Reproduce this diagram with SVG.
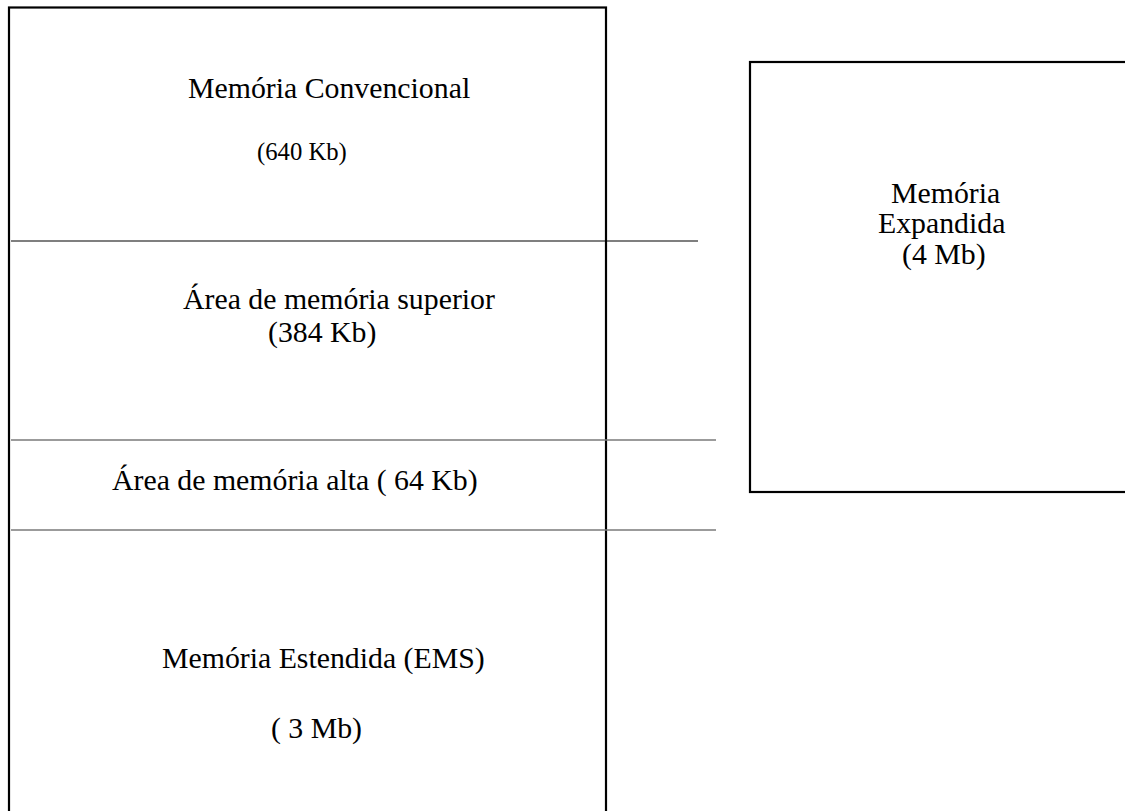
<svg xmlns="http://www.w3.org/2000/svg" width="1125" height="811" viewBox="0 0 1125 811">
<style>
.t{font-family:"Liberation Serif","Times New Roman",serif;font-size:29.8px;fill:#000}
.s{font-size:24.7px}
.box{fill:none;stroke:#000;stroke-width:2.2}
.ln{stroke:#000;stroke-width:1.2}
.lg{stroke:#7a7a7a;stroke-width:1.4}
</style>
<rect width="1125" height="811" fill="#fff"/>
<g id="memoria-principal">
<rect class="box" x="9" y="7.5" width="597" height="820"/>
</g>
<g id="convencional">
<text class="t" x="188" y="98">Memória Convencional</text>
<text class="t s" x="257" y="160">(640 Kb)</text>
</g>
<g id="superior">
<text class="t" x="183" y="309">Área de memória superior</text>
<text class="t" x="268" y="342">(384 Kb)</text>
</g>
<g id="alta">
<text class="t" x="112" y="490">Área de memória alta ( 64 Kb)</text>
</g>
<g id="estendida">
<text class="t" x="162" y="668">Memória Estendida (EMS)</text>
<text class="t" x="271" y="738">( 3 Mb)</text>
</g>
<g id="expandida">
<rect class="box" x="750" y="62" width="400" height="430"/>
<text class="t" x="891" y="203">Memória</text>
<text class="t" x="878" y="233">Expandida</text>
<text class="t" x="902" y="264">(4 Mb)</text>
</g>
<g id="connectors">
<line class="ln" x1="11" y1="241" x2="698" y2="241"/>
<line class="lg" x1="11" y1="440" x2="716" y2="440"/>
<line class="lg" x1="11" y1="530" x2="716" y2="530"/>
</g>
</svg>
